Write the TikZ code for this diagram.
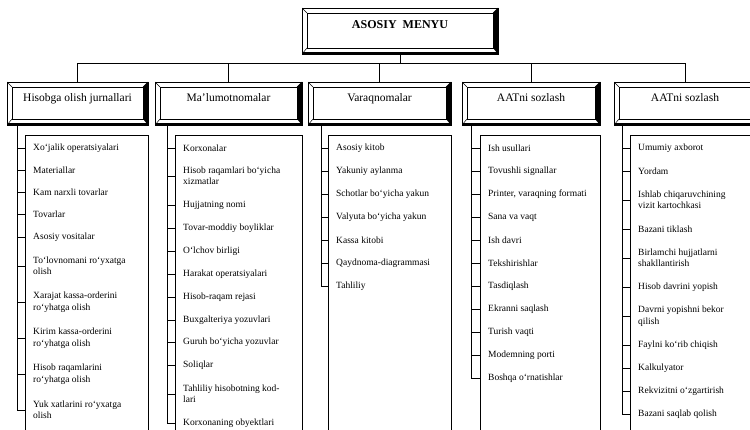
\documentclass[tikz,border=0pt]{standalone}
\usepackage{fontspec}
\setmainfont{Liberation Serif}
\begin{document}
\begin{tikzpicture}[x=1pt,y=-1pt,
  bevel/.style={draw, line width=0.6pt, fill=white, path picture={
    \path (path picture bounding box.north west) coordinate (bNW)
          (path picture bounding box.south east) coordinate (bSE);
    \path (bNW -| bSE) coordinate (bNE) (bNW |- bSE) coordinate (bSW);
    \fill[black] ([shift={(-5pt,-5pt)}]bNE) -- (bNE) -- (bSE) -- ([shift={(-5pt,6pt)}]bSE) -- cycle;
    \draw[line width=0.5pt] ([shift={(5pt,-5pt)}]bNW) rectangle ([shift={(-5pt,6pt)}]bSE);
    \draw[line width=0.5pt] (bNW) -- ++(5pt,-5pt) (bSW) -- ++(5pt,6pt) (bNE) -- ++(-5pt,-5pt);
    \draw[line width=3pt] (bSW) -- (bSE);}},
  head/.style={bevel, minimum height=43pt, font=\fontsize{11.5}{13}\selectfont, text height=8pt, text depth=12pt},
  item/.style={anchor=west, inner xsep=8pt, inner ysep=0pt, align=left, font=\fontsize{9.5}{11.5}\selectfont}]
\useasboundingbox (0,0) rectangle (750,430);
% main menu
\node[bevel, minimum width=196pt, minimum height=46pt, font=\bfseries\fontsize{12}{14}\selectfont, text height=8.5pt, text depth=13pt] (menu) at (400,31) {ASOSIY\ \ MENYU};
% column headers
\node[head, minimum width=141pt] (h1) at (77.5,103.5) {Hisobga olish jurnallari};
\node[head, minimum width=147pt] (h2) at (228.5,103.5) {Ma'lumotnomalar};
\node[head, minimum width=143pt] (h3) at (379.5,103.5) {Varaqnomalar};
\node[head, minimum width=138pt] (h4) at (531,103.5) {AATni sozlash};
\node[head, minimum width=142pt] (h5) at (685,103.5) {AATni sozlash};
% bus
\coordinate (bus) at (0,63);
\draw (menu.south) -- (menu.south |- bus);
\draw (h1.north) -- (h1.north |- bus) -- (h5.north |- bus) -- (h5.north);
\foreach \h in {h2,h3,h4} \draw (\h.north) -- (\h.north |- bus);
% list boxes
\draw (25,430) |- (148,135) -- (148,430);
\draw (175,430) |- (302,135) -- (302,430);
\draw (328,430) |- (451,135) -- (451,430);
\draw (480,430) |- (600,135) -- (600,430);
\draw (630,430) |- (756,135) -- (756,430);
% column 1
\coordinate (t1) at (17,125);
\foreach \y/\txt [count=\i] in {148/{Xo`jalik operatsiyalari}, 170/{Materiallar}, 192/{Kam narxli tovarlar}, 214/{Tovarlar}, 237/{Asosiy vositalar}, 266/{To`lovnomani ro`yxatga\\olish}, 302/{Xarajat kassa-orderini\\ro`yhatga olish}, 338/{Kirim kassa-orderini\\ro`yhatga olish}, 374/{Hisob raqamlarini\\ro`yhatga olish}, 410/{Yuk xatlarini ro`yxatga\\olish}} {
  \node[item] (a\i) at (25,\y) {\txt};
  \draw (t1 |- a\i.west) -- (a\i.west);
}
\draw (t1) -- (t1 |- a10.west);
% column 2
\coordinate (t2) at (167,125);
\foreach \y/\txt [count=\i] in {148/{Korxonalar}, 176/{Hisob raqamlari bo`yicha\\xizmatlar}, 205/{Hujjatning nomi}, 228/{Tovar-moddiy boyliklar}, 251/{O`lchov birligi}, 274/{Harakat operatsiyalari}, 297/{Hisob-raqam rejasi}, 320/{Buxgalteriya yozuvlari}, 342/{Guruh bo`yicha yozuvlar}, 365/{Soliqlar}, 394/{Tahliliy hisobotning kod-\\lari}, 423/{Korxonaning obyektlari}} {
  \node[item] (b\i) at (175,\y) {\txt};
  \draw (t2 |- b\i.west) -- (b\i.west);
}
\draw (t2) -- (t2 |- b12.west);
% column 3
\coordinate (t3) at (321,125);
\foreach \y/\txt [count=\i] in {148/{Asosiy kitob}, 171/{Yakuniy aylanma}, 194/{Schotlar bo`yicha yakun}, 217/{Valyuta bo`yicha yakun}, 240/{Kassa kitobi}, 263/{Qaydnoma-diagrammasi}, 286/{Tahliliy}} {
  \node[item] (c\i) at (328,\y) {\txt};
  \draw (t3 |- c\i.west) -- (c\i.west);
}
\draw (t3) -- (t3 |- c7.west);
% column 4
\coordinate (t4) at (471,125);
\foreach \y/\txt [count=\i] in {148/{Ish usullari}, 171/{Tovushli signallar}, 194/{Printer, varaqning formati}, 217/{Sana va vaqt}, 240/{Ish davri}, 263/{Tekshirishlar}, 286/{Tasdiqlash}, 309/{Ekranni saqlash}, 332/{Turish vaqti}, 355/{Modemning porti}, 378/{Boshqa o`rnatishlar}} {
  \node[item] (d\i) at (480,\y) {\txt};
  \draw (t4 |- d\i.west) -- (d\i.west);
}
\draw (t4) -- (t4 |- d11.west);
% column 5
\coordinate (t5) at (622,125);
\foreach \y/\txt [count=\i] in {148/{Umumiy axborot}, 171/{Yordam}, 200/{Ishlab chiqaruvchining\\vizit kartochkasi}, 229/{Bazani tiklash}, 258/{Birlamchi hujjatlarni\\shakllantirish}, 287/{Hisob davrini yopish}, 316/{Davrni yopishni bekor\\qilish}, 345/{Faylni ko`rib chiqish}, 368/{Kalkulyator}, 391/{Rekvizitni o`zgartirish}, 414/{Bazani saqlab qolish}} {
  \node[item] (e\i) at (630,\y) {\txt};
  \draw (t5 |- e\i.west) -- (e\i.west);
}
\draw (t5) -- (t5 |- e11.west);
\end{tikzpicture}
\end{document}
